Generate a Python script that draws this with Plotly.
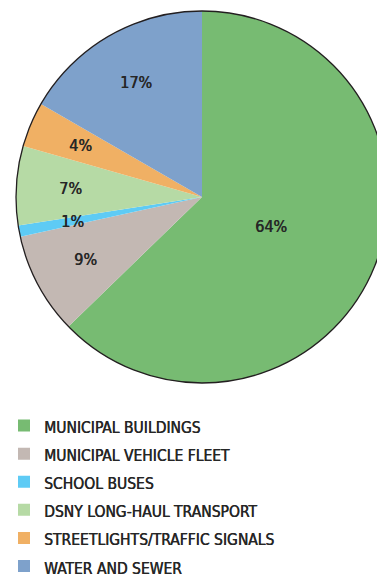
import math
import plotly.graph_objects as go

# Energy use share by category (percent, as labelled)
categories = [
    "MUNICIPAL BUILDINGS",
    "MUNICIPAL VEHICLE FLEET",
    "SCHOOL BUSES",
    "DSNY LONG-HAUL TRANSPORT",
    "STREETLIGHTS/TRAFFIC SIGNALS",
    "WATER AND SEWER",
]
shares = [64, 9, 1, 7, 4, 17]
colors = ["#77bb72", "#c3b8b3", "#5ecbf5", "#b6daa5", "#f0b064", "#7ea1cb"]

FONT = "DejaVu Sans Condensed, sans-serif"
TEXT_COLOR = "#262626"
TEXT_SHADOW = "0.5px 0 0 #262626"

# canvas is a bit larger than the visible window; the overflow is hidden
W, H = 390, 592
# pie placement in pixels (center x, top y, radius)
CX, TOP, R = 202, 11, 186
CY = TOP + R

dom_x = [(CX - R) / W, (CX + R) / W]
dom_y = [(H - (TOP + 2 * R)) / H, (H - TOP) / H]

# legend rows: row pitch comes from the legend font size, glyphs drawn smaller
legend_labels = [f"<span style='font-size:15.5px'>{c}</span>" for c in categories]

fig = go.Figure()

fig.add_trace(go.Pie(
    labels=legend_labels,
    values=shares,
    sort=False,
    direction="clockwise",
    rotation=0,
    marker=dict(colors=colors, line=dict(width=0)),
    textinfo="none",
    hovertemplate="%{value}%<extra></extra>",
    domain=dict(x=dom_x, y=dom_y),
    showlegend=True,
))

# outer rim of the pie
fig.add_trace(go.Pie(
    values=[1],
    labels=["rim"],
    marker=dict(colors=["rgba(0,0,0,0)"], line=dict(color="#231f20", width=1.3)),
    textinfo="none",
    hoverinfo="skip",
    domain=dict(x=dom_x, y=dom_y),
    showlegend=False,
))

# percentage labels placed at each slice's mid-angle
total = sum(shares)
cum = 0
annotations = []
for v in shares:
    mid = (cum + v / 2) / total * 2 * math.pi
    cum += v
    rf = 0.40 if v / total > 0.5 else 0.71
    px = CX + rf * R * math.sin(mid)
    py = CY - rf * R * math.cos(mid)
    annotations.append(dict(
        x=px / W, y=1 - py / H, xref="paper", yref="paper",
        text=f"{v}%", showarrow=False,
        font=dict(family=FONT, size=16, color=TEXT_COLOR, shadow=TEXT_SHADOW),
        xanchor="center", yanchor="middle",
    ))

fig.update_layout(
    width=W, height=H,
    margin=dict(l=0, r=0, t=0, b=0),
    paper_bgcolor="white",
    annotations=annotations,
    legend=dict(
        x=4 / W, y=1 - 406.5 / H, xanchor="left", yanchor="top",
        font=dict(family=FONT, size=19.3, color=TEXT_COLOR, shadow=TEXT_SHADOW),
        traceorder="normal",
        bgcolor="rgba(0,0,0,0)",
    ),
)

fig.write_html(
    "out.html",
    post_script="document.body.style.margin='0';"
                "document.body.style.overflow='hidden';"
                "document.documentElement.style.overflow='hidden';",
)
